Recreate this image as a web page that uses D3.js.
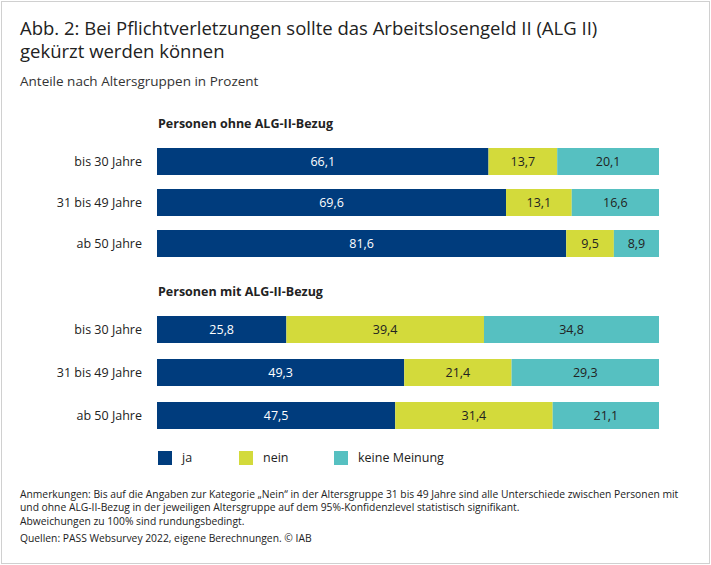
<!DOCTYPE html>
<html><head><meta charset="utf-8">
<script src="https://cdn.jsdelivr.net/npm/d3@7"></script>
<style>body{margin:0;background:#fff;font-family:"Source Sans Pro","Open Sans",sans-serif;}</style>
</head><body>
<svg id="c" width="711" height="565"></svg>
<script>
const groups = ["Personen ohne ALG-II-Bezug","Personen mit ALG-II-Bezug"];
const categories = ["bis 30 Jahre","31 bis 49 Jahre","ab 50 Jahre"];
const seriesNames = ["ja","nein","keine Meinung"];
const ja   = [[66.1,69.6,81.6],[25.8,49.3,47.5]];
const nein = [[13.7,13.1,9.5],[39.4,21.4,31.4]];
const keine= [[20.1,16.6,8.9],[34.8,29.3,21.1]];
const colors = ["#003c7d","#d3da3b","#56c0c1"];
const svg = d3.select("#c");
const F = "'Open Sans',sans-serif";
svg.append("rect").attr("x",1.5).attr("y",1.5).attr("width",708).attr("height",562).attr("fill","#fff").attr("stroke","#d0d0d0");
svg.append("text").attr("x",20).attr("y",35).attr("font-size",18.5).attr("fill","#222").attr("font-family",F).text("Abb. 2: Bei Pflichtverletzungen sollte das Arbeitslosengeld II (ALG II)");
svg.append("text").attr("x",20).attr("y",58).attr("font-size",18.5).attr("fill","#222").attr("font-family",F).text("gekürzt werden können");
svg.append("text").attr("x",20).attr("y",86).attr("font-size",13.5).attr("fill","#333").attr("font-family",F).text("Anteile nach Altersgruppen in Prozent");
const x = d3.scaleLinear().domain([0,100.1]).range([157,659]);
const gTop=[148,316], step=[41,43];
groups.forEach((g,gi)=>{
  svg.append("text").attr("x",158).attr("y",gTop[gi]-20).attr("font-size",12.5).attr("font-weight","bold").attr("fill","#222").attr("font-family",F).text(g);
  const y = d3.scaleBand().domain(categories).range([gTop[gi]-7, gTop[gi]-7+3*(gi?43:41)]).paddingInner(0.36).paddingOuter(0.18);
  categories.forEach((c,ci)=>{
    const vals=[ja[gi][ci],nein[gi][ci],keine[gi][ci]];
    let acc=0;
    const yy=gTop[gi]+ci*step[gi], h=27;
    svg.append("text").attr("x",142).attr("y",yy+h/2+4.5).attr("text-anchor","end").attr("font-size",12.5).attr("fill","#222").attr("font-family",F).text(c);
    vals.forEach((v,si)=>{
      const x0=x(acc), x1=si==2?x(100.1):x(acc+v);
      svg.append("rect").attr("x",x0).attr("y",yy).attr("width",x1-x0).attr("height",h).attr("fill",colors[si]);
      svg.append("text").attr("x",(x0+x1)/2).attr("y",yy+h/2+4.5).attr("text-anchor","middle").attr("font-size",12.5).attr("font-family",F).attr("fill",si==0?"#fff":"#222").text(d3.format(".1f")(v).replace(".",","));
      acc+=v;
    });
  });
});
const lx=[158,239,334];
seriesNames.forEach((s,i)=>{
  svg.append("rect").attr("x",lx[i]).attr("y",451).attr("width",14).attr("height",14).attr("fill",colors[i]);
  svg.append("text").attr("x",lx[i]+24).attr("y",462).attr("font-size",12.5).attr("fill","#222").attr("font-family",F).text(s);
});
const notes=["Anmerkungen: Bis auf die Angaben zur Kategorie „Nein“ in der Altersgruppe 31 bis 49 Jahre sind alle Unterschiede zwischen Personen mit",
"und ohne ALG-II-Bezug in der jeweiligen Altersgruppe auf dem 95%-Konfidenzlevel statistisch signifikant.",
"Abweichungen zu 100% sind rundungsbedingt.","Quellen: PASS Websurvey 2022, eigene Berechnungen. © IAB"];
const ny=[498,511,525,542];
notes.forEach((t,i)=>svg.append("text").attr("x",20).attr("y",ny[i]).attr("font-size",10.3).attr("fill","#222").attr("font-family",F).text(t));
</script></body></html>
